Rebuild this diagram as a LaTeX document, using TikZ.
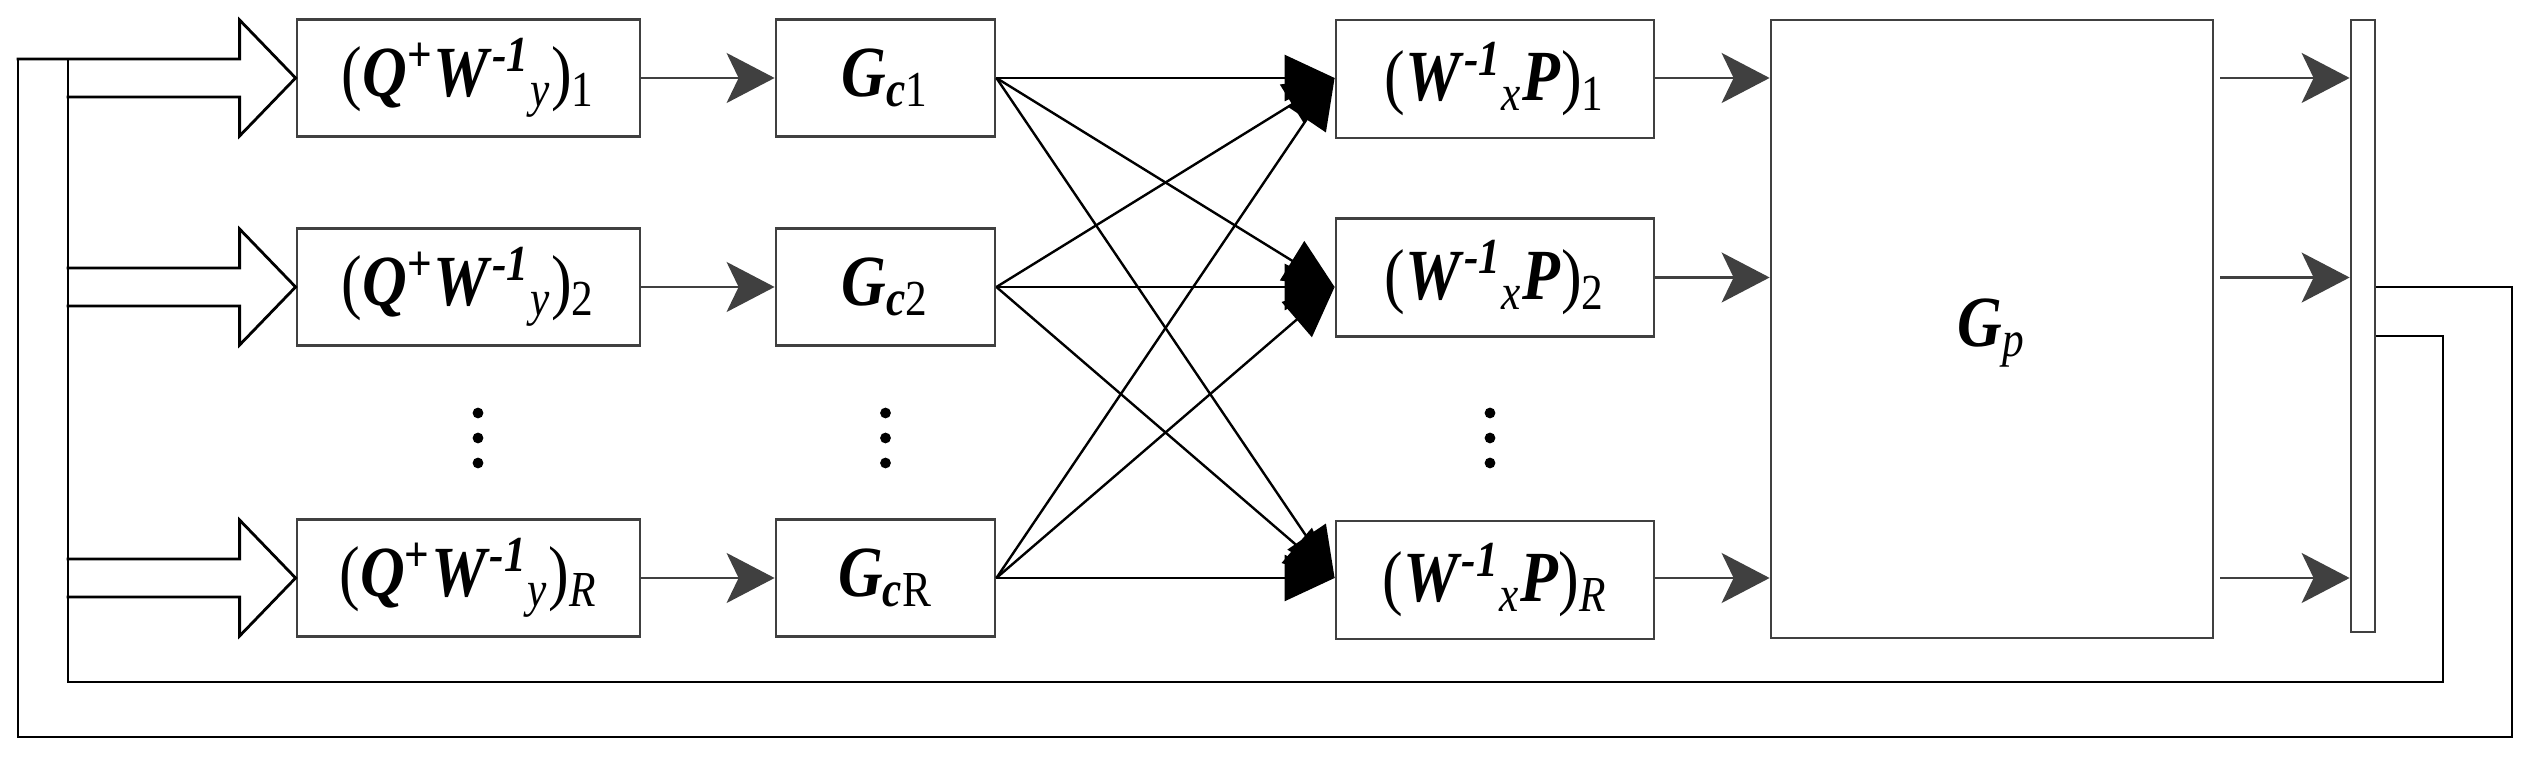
\documentclass[tikz,border=0pt]{standalone}
\usepackage{graphicx}
\usepackage{fontspec}
\setmainfont{Liberation Serif}
\usetikzlibrary{arrows.meta,calc}
\definecolor{dgray}{HTML}{404040}
\newcommand\bi[1]{\textbf{\textit{#1}}}
\newcommand\sps[1]{\textsuperscript{#1}}
\newcommand\sbs[1]{\textsubscript{#1}}
\newcommand\lbl[1]{\scalebox{0.86}[1]{#1}}
\begin{document}
\begin{tikzpicture}[x=0.25pt,y=-0.25pt,
  box/.style={draw=dgray,line width=0.7pt,inner sep=0pt,fill=white,
    font=\fontsize{18pt}{21pt}\selectfont},
  qbox/.style={box,minimum width=85.75pt,minimum height=29.25pt},
  gbox/.style={box,minimum width=54.75pt,minimum height=29.25pt},
  wbox/.style={box,minimum width=79.5pt,minimum height=29.5pt},
  garrow/.style={draw=dgray,line width=0.55pt,
    -{Stealth[length=12pt,width=12.5pt,inset=3pt,color=dgray]}},
  barrow/.style={draw=black,line width=0.6pt,
    -{Triangle[length=12.5pt,width=11.5pt]}},
  fb/.style={draw=black,line width=0.7pt},
  hollow/.style={draw=black,line width=0.7pt,line join=miter},
  dot/.style={circle,fill=black,inner sep=0pt,minimum size=2.7pt}]
\useasboundingbox (0,0) rectangle (2524,757);

% first column
\node[qbox] (Q1) at (468.5,78) {\lbl{(\bi{Q}\sps{\bfseries +}\bi{W}\sps{\bfseries\itshape -1}\sbs{\itshape y})\sbs{1}}};
\node[qbox] (Q2) at (468.5,287) {\lbl{(\bi{Q}\sps{\bfseries +}\bi{W}\sps{\bfseries\itshape -1}\sbs{\itshape y})\sbs{2}}};
\node[qbox] (QR) at (468.5,578) {\lbl{(\bi{Q}\sps{\bfseries +}\bi{W}\sps{\bfseries\itshape -1}\sbs{\itshape y})\sbs{\itshape R}}};

% controllers
\node[gbox] (G1) at (885.5,78) {\lbl{\bi{G}\sbs{\bi{c}1}}};
\node[gbox] (G2) at (885.5,287) {\lbl{\bi{G}\sbs{\bi{c}2}}};
\node[gbox] (GR) at (885.5,578) {\lbl{\bi{G}\sbs{\bi{c}R}}};

% output blocks
\node[wbox] (W1) at (1495,79) {\lbl{(\bi{W}\sps{\bfseries\itshape -1}\sbs{\itshape x}\bi{P})\sbs{1}}};
\node[wbox] (W2) at (1495,277.5) {\lbl{(\bi{W}\sps{\bfseries\itshape -1}\sbs{\itshape x}\bi{P})\sbs{2}}};
\node[wbox] (WR) at (1495,580) {\lbl{(\bi{W}\sps{\bfseries\itshape -1}\sbs{\itshape x}\bi{P})\sbs{\itshape R}}};

% plant
\node[box,minimum width=110.5pt,minimum height=154.5pt] (Gp) at (1992,329) {};
\node[font=\fontsize{18pt}{21pt}\selectfont] (Gpl) at (1992,333) {\lbl{\bi{G}\sbs{\itshape p}}};
% sensor bar
\node[box,minimum width=6pt,minimum height=153pt] (bar) at (2363,326) {};

% dots
\foreach \x/\n in {478/a,885.5/b,1490/c}{
  \node[dot] (\n1) at (\x,413) {};
  \node[dot] (\n2) at (\x,438) {};
  \node[dot] (\n3) at (\x,463) {};
}

% gray arrows
\draw[garrow] (Q1.east) -- (G1.west);
\draw[garrow] (Q2.east) -- (G2.west);
\draw[garrow] (QR.east) -- (GR.west);
\draw[garrow] (W1.east |- G1.east) -- (Gp.west |- G1.east);
\draw[garrow] (W2.east) -- (Gp.west |- W2.east);
\draw[garrow] (WR.east |- GR.east) -- (Gp.west |- GR.east);
\draw[garrow] ([xshift=1.5pt]Gp.east |- G1.east) -- (bar.west |- G1.east);
\draw[garrow] ([xshift=1.5pt]Gp.east |- W2.east) -- (bar.west |- W2.east);
\draw[garrow] ([xshift=1.5pt]Gp.east |- GR.east) -- (bar.west |- GR.east);

% cross connections
\foreach \s in {G1,G2,GR}{
  \draw[barrow] (\s.east) -- (W1.west |- G1.east);
  \draw[barrow] (\s.east) -- (W2.west |- G2.east);
  \draw[barrow] (\s.east) -- (WR.west |- GR.east);
}

% hollow input arrows
\draw[hollow] (Q1.west) ++(-279,-19) -- ++(223,0) -- ++(0,-39) -- (Q1.west) -- ++(-56,58) -- ++(0,-39) -- ++(-173,0);
\draw[hollow] (Q2.west) ++(-229,-19) -- ++(173,0) -- ++(0,-39) -- (Q2.west) -- ++(-56,58) -- ++(0,-39) -- ++(-173,0);
\draw[hollow] (QR.west) ++(-229,-19) -- ++(173,0) -- ++(0,-39) -- (QR.west) -- ++(-56,58) -- ++(0,-39) -- ++(-173,0);

% feedback loops
\coordinate (t1) at (18,59);
\coordinate (oR) at (2512,287);
\coordinate (oB) at (18,737);
\coordinate (iR) at (2443,336);
\coordinate (iB) at (68,682);
\draw[fb] (bar.east |- oR) -- (oR) -- (oR |- oB) -- (oB) -- (t1);
\draw[fb] (bar.east |- iR) -- (iR) -- (iR |- iB) -- (iB) -- (iB |- t1);
\end{tikzpicture}
\end{document}
